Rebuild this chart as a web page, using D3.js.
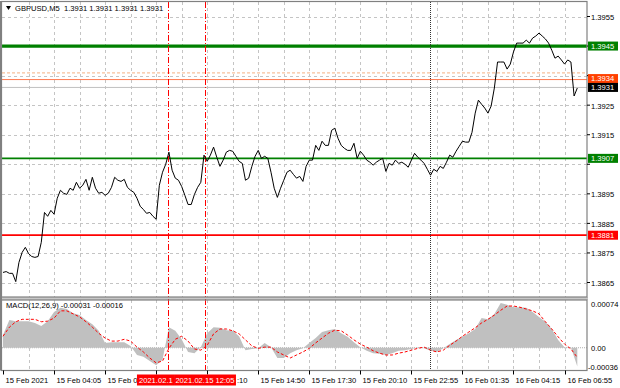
<!DOCTYPE html>
<html><head><meta charset="utf-8">
<script src="https://cdn.jsdelivr.net/npm/d3@7"></script>
<style>body{margin:0;background:#fff}svg{display:block;font-family:"Liberation Sans",Arial,sans-serif}</style>
</head><body><svg id="c" width="620" height="388"></svg>
<script>
// ---- data ----
const symbol = "GBPUSD,M5";
const quote = [1.3931, 1.3931, 1.3931, 1.3931];
const priceTicks = [1.3865, 1.3875, 1.3885, 1.3895, 1.3905, 1.3915, 1.3925, 1.3935, 1.3945, 1.3955];
// tick labels as visible in the picture (some are partly hidden behind the red time boxes)
const timeLabels = ["15 Feb 2021", "15 Feb 04:05", "15 Feb 06", "", "", "15 Feb 14:50",
  "15 Feb 17:30", "15 Feb 20:10", "15 Feb 22:55", "16 Feb 01:35", "16 Feb 04:15", "16 Feb 06:55"];
const timeLabelIdx = [0, 16, 32, 48, 64, 80, 96, 112, 128, 144, 160, 176];
const partialLabel = ":10";
const closes = [
 1.38684,1.38687,1.38681,1.38681,1.38653,1.38718,1.38752,1.38769,1.38748,1.38738,
 1.38735,1.38738,1.38786,1.38887,1.38874,1.38894,1.38881,1.38935,1.38962,1.38952,
 1.38948,1.38969,1.38962,1.38989,1.38969,1.38979,1.38999,1.38962,1.39006,1.38969,
 1.38952,1.38955,1.38945,1.38952,1.38972,1.39006,1.38996,1.38992,1.38999,1.38972,
 1.38962,1.38955,1.38935,1.38908,1.38897,1.38884,1.38887,1.38874,1.38864,1.38979,
 1.39023,1.39050,1.39091,1.39030,1.39003,1.38996,1.38975,1.38945,1.38914,1.38914,
 1.38948,1.38972,1.38989,1.39081,1.39060,1.39081,1.39108,1.39074,1.39043,1.39064,
 1.39091,1.39097,1.39094,1.39077,1.39060,1.39053,1.38996,1.39003,1.39043,1.39077,
 1.39097,1.39070,1.39077,1.39070,1.39023,1.38969,1.38938,1.38969,1.38996,1.39023,
 1.39030,1.39016,1.39003,1.39009,1.38992,1.39043,1.39064,1.39064,1.39114,1.39097,
 1.39128,1.39114,1.39114,1.39165,1.39172,1.39138,1.39114,1.39104,1.39097,1.39097,
 1.39121,1.39070,1.39094,1.39081,1.39064,1.39057,1.39047,1.39057,1.39064,1.39070,
 1.39026,1.39053,1.39047,1.39064,1.39053,1.39057,1.39050,1.39040,1.39064,1.39087,
 1.39074,1.39064,1.39053,1.39033,1.39013,1.39033,1.39026,1.39043,1.39036,1.39057,
 1.39081,1.39074,1.39094,1.39111,1.39128,1.39125,1.39125,1.39158,1.39223,1.39267,
 1.39253,1.39240,1.39223,1.39247,1.39308,1.39396,1.39396,1.39396,1.39372,1.39389,
 1.39430,1.39460,1.39460,1.39460,1.39470,1.39460,1.39477,1.39484,1.39494,1.39484,
 1.39474,1.39460,1.39436,1.39409,1.39416,1.39403,1.39389,1.39403,1.39396,1.39281,
 1.39308];
const macdHist = [
 0.00021,0.00046,0.00044,0.00044,0.00044,0.00041,0.00036,0.00044,0.00059,0.00066,
 0.00064,0.00057,0.00054,0.00046,0.00039,0.00028,0.00008,0.00009,0.00009,0.00009,
 0.00003,-0.00012,-0.00015,-0.00022,-0.00029,-0.00020,0.00034,0.00028,0.00014,-0.00007,
 -0.00009,0.00001,0.00024,0.00034,0.00033,0.00029,0.00028,0.00019,-0.00004,-0.00002,
 -0.00001,0.00008,0.00001,-0.00017,-0.00017,-0.00009,-0.00004,-0.00001,0.00008,0.00016,
 0.00026,0.00029,0.00031,0.00024,0.00018,0.00009,0.00001,-0.00005,-0.00009,-0.00010,
 -0.00012,-0.00009,-0.00005,-0.00004,-0.00002,0.00001,-0.00001,-0.00005,-0.00007,-0.00001,
 0.00006,0.00013,0.00018,0.00024,0.00031,0.00049,0.00047,0.00056,0.00074,0.00071,
 0.00067,0.00067,0.00066,0.00059,0.00051,0.00043,0.00031,0.00013,0.00001,0.00001,
 -0.00031];
const macdSignal = [
 0.00019,0.00034,0.00043,0.00047,0.00047,0.00047,0.00043,0.00044,0.00049,0.00061,
 0.00061,0.00056,0.00051,0.00043,0.00034,0.00024,0.00016,0.00011,0.00011,0.00014,
 0.00011,0.00001,-0.00007,-0.00017,-0.00025,-0.00022,-0.00001,0.00014,0.00019,0.00011,
 -0.00002,-0.00004,0.00004,0.00023,0.00031,0.00031,0.00028,0.00023,0.00013,0.00003,
 -0.00001,0.00001,0.00001,-0.00007,-0.00012,-0.00017,-0.00012,-0.00007,-0.00001,0.00008,
 0.00016,0.00024,0.00029,0.00028,0.00021,0.00013,0.00006,0.00001,-0.00005,-0.00009,
 -0.00012,-0.00012,-0.00009,-0.00007,-0.00004,-0.00001,0.00001,-0.00004,-0.00007,-0.00004,
 0.00004,0.00011,0.00019,0.00026,0.00033,0.00041,0.00047,0.00054,0.00062,0.00069,
 0.00069,0.00067,0.00064,0.00061,0.00056,0.00043,0.00031,0.00018,0.00006,-0.00002,
 -0.00016];
const macdTicks = [-0.00036, 0.00, 0.00074];
const macdTickLabels = ["-0.00036", "0.00", "0.00074"];
const macdTitle = "MACD(12,26,9) -0.00031 -0.00016";
const resistance = 1.3945, buyLevel = 1.3907, sellLevel = 1.3881;
const askPrice = 1.3934, bidPrice = 1.3931, askDashed = 1.39349;
const markerIdx = [51.7, 63.3];
const markerLabels = ["2021.02.1", "2021.02.15 12:05"];
const sessionIdx = 133.9;

// ---- layout ----
const svg = d3.select("#c");
const L = 2, R = 587, T = 2, B1 = 297, T2 = 300, B2 = 370.5;
const x = d3.scaleLinear().domain([0, closes.length - 1]).range([3, 577.3]);
const y = d3.scaleLinear().domain([1.3865, 1.3955]).range([282.5, 16.5]);
const ym = d3.scaleLinear().domain([-0.00036, 0.00074]).range([369.5, 303]);
const fnt = 7.6;
const boxedPrices = [resistance, askPrice, bidPrice, buyLevel, sellLevel];

// separator
svg.append("rect").attr("x", 0).attr("y", B1).attr("width", R + 1).attr("height", T2 - B1).attr("fill", "#c8c8c8");

// grid
const grid = svg.append("g").attr("stroke", "#c4c4c4").attr("stroke-width", 1).attr("stroke-dasharray", "3,3");
for (let k = 8; k < closes.length; k += 8) {
  const gx = Math.round(x(k)) + 0.5;
  grid.append("line").attr("x1", gx).attr("x2", gx).attr("y1", T).attr("y2", B1);
  grid.append("line").attr("x1", gx).attr("x2", gx).attr("y1", T2).attr("y2", B2);
}
priceTicks.forEach(p => {
  const gy = Math.round(y(p)) + 0.5;
  grid.append("line").attr("x1", L).attr("x2", R).attr("y1", gy).attr("y2", gy);
});
svg.append("line").attr("x1", L).attr("x2", R).attr("y1", ym(0)).attr("y2", ym(0))
  .attr("stroke", "#b0b0b0").attr("stroke-dasharray", "1,1");

// horizontal levels
svg.append("line").attr("x1", L).attr("x2", R).attr("y1", y(askDashed) - 3).attr("y2", y(askDashed) - 3)
  .attr("stroke", "#f5b080").attr("stroke-dasharray", "3,2");
svg.append("line").attr("x1", L).attr("x2", R).attr("y1", y(askPrice) + 1).attr("y2", y(askPrice) + 1)
  .attr("stroke", "#ff7a50").attr("stroke-width", 1);
svg.append("line").attr("x1", L).attr("x2", R).attr("y1", y(bidPrice)).attr("y2", y(bidPrice))
  .attr("stroke", "#c0c0c0").attr("stroke-width", 1);
svg.append("line").attr("x1", L).attr("x2", R).attr("y1", y(resistance)).attr("y2", y(resistance))
  .attr("stroke", "#008000").attr("stroke-width", 3.2);
svg.append("line").attr("x1", L).attr("x2", R).attr("y1", y(buyLevel)).attr("y2", y(buyLevel))
  .attr("stroke", "#008000").attr("stroke-width", 1.8);
svg.append("line").attr("x1", L).attr("x2", R).attr("y1", y(sellLevel)).attr("y2", y(sellLevel))
  .attr("stroke", "#ff0000").attr("stroke-width", 1.8);

// macd histogram + signal
const hx = i => x(i * 2);
svg.append("path").datum(macdHist)
  .attr("d", d3.area().x((d, i) => hx(i)).y0(ym(0)).y1(d => ym(d)))
  .attr("fill", "#c0c0c0");
svg.append("path").datum(macdSignal)
  .attr("d", d3.line().x((d, i) => hx(i)).y(d => ym(d)))
  .attr("fill", "none").attr("stroke", "#ff0000").attr("stroke-width", 1).attr("stroke-dasharray", "3,2");

// vertical markers
markerIdx.forEach(m => {
  const mx = Math.round(x(m)) + 0.5;
  svg.append("line").attr("x1", mx).attr("x2", mx).attr("y1", T).attr("y2", B2)
    .attr("stroke", "#ff0000").attr("stroke-dasharray", "6,2,1,2");
});
{
  const sx = Math.round(x(sessionIdx)) + 0.5;
  svg.append("line").attr("x1", sx).attr("x2", sx).attr("y1", T).attr("y2", B2)
    .attr("stroke", "#333").attr("stroke-dasharray", "1,1");
}

// price line
svg.append("path").datum(closes)
  .attr("d", d3.line().x((d, i) => x(i)).y(d => y(d)))
  .attr("fill", "none").attr("stroke", "#000").attr("stroke-width", 1);

// frames
svg.append("rect").attr("x", 1.5).attr("y", 1.5).attr("width", R - 1.5).attr("height", B1 - 1.5)
  .attr("fill", "none").attr("stroke", "#808080").attr("stroke-width", 1.2);
svg.append("rect").attr("x", 1.5).attr("y", T2).attr("width", R - 1.5).attr("height", B2 - T2)
  .attr("fill", "none").attr("stroke", "#808080").attr("stroke-width", 1.2);
svg.append("line").attr("x1", 1).attr("x2", 1).attr("y1", 1).attr("y2", B2).attr("stroke", "#808080").attr("stroke-width", 2);

// right price axis (labels hidden behind price boxes are skipped)
const ax = svg.append("g").attr("font-size", fnt).attr("fill", "#000");
priceTicks.forEach(p => {
  ax.append("line").attr("x1", R).attr("x2", R + 3).attr("y1", y(p)).attr("y2", y(p)).attr("stroke", "#000");
  const hidden = boxedPrices.some(b => Math.abs(y(b) - y(p)) < 9);
  if (!hidden) ax.append("text").attr("x", 591).attr("y", y(p) + 1.5).attr("dominant-baseline", "middle").text(p.toFixed(4));
});
macdTicks.forEach((v, i) => {
  const ty = i === 0 ? ym(v) - 3 : ym(v);
  ax.append("text").attr("x", i === 0 ? 588 : 591).attr("y", ty + 1.5).attr("dominant-baseline", "middle").text(macdTickLabels[i]);
});

// price boxes
function pbox(v, fill) {
  const g = svg.append("g");
  g.append("rect").attr("x", 588).attr("y", y(v) - 4.5).attr("width", 30).attr("height", 9).attr("fill", fill);
  g.append("text").attr("x", 591).attr("y", y(v) + 0.5).attr("dominant-baseline", "middle")
    .attr("font-size", fnt).attr("fill", "#fff").text(v.toFixed(4));
}
pbox(resistance, "#008000");
pbox(askPrice, "#ff4000");
pbox(bidPrice, "#000");
pbox(buyLevel, "#008000");
pbox(sellLevel, "#ff0000");

// time axis
const tx = svg.append("g").attr("font-size", fnt);
timeLabelIdx.forEach((idx, i) => {
  const px = Math.round(x(idx)) + 0.5;
  tx.append("line").attr("x1", px).attr("x2", px).attr("y1", B2).attr("y2", B2 + 4).attr("stroke", "#000");
  if (timeLabels[i]) tx.append("text").attr("x", px + 2).attr("y", 381).attr("dominant-baseline", "middle").text(timeLabels[i]);
});
// red time boxes for the two vertical markers
{
  const x1 = x(markerIdx[0]), x2 = x(markerIdx[1]);
  const b1l = x1 - 31, b2l = x2 - 30, b2r = x2 + 31;
  tx.append("rect").attr("x", b1l).attr("y", 374.5).attr("width", b2l - b1l).attr("height", 11).attr("fill", "#ff0000");
  tx.append("text").attr("x", b1l + 2).attr("y", 380.5).attr("dominant-baseline", "middle")
    .attr("fill", "#fff").text(markerLabels[0]);
  tx.append("rect").attr("x", b2l).attr("y", 374.5).attr("width", b2r - b2l).attr("height", 11).attr("fill", "#ff0000");
  tx.append("text").attr("x", x2).attr("y", 380.5).attr("text-anchor", "middle").attr("dominant-baseline", "middle")
    .attr("fill", "#fff").text(markerLabels[1]);
  tx.append("text").attr("x", b2r + 1).attr("y", 381).attr("dominant-baseline", "middle").text(partialLabel);
}

// titles
svg.append("path").attr("d", "M6,6 L11,6 L8.5,10 Z").attr("fill", "#000");
svg.append("text").attr("x", 15).attr("y", 8.5).attr("font-size", fnt).attr("dominant-baseline", "middle")
  .attr("xml:space", "preserve").text(symbol + "  " + quote.map(q => q.toFixed(4)).join(" "));
svg.append("text").attr("x", 6).attr("y", 305.5).attr("font-size", fnt).attr("dominant-baseline", "middle")
  .text(macdTitle);
</script></body></html>
